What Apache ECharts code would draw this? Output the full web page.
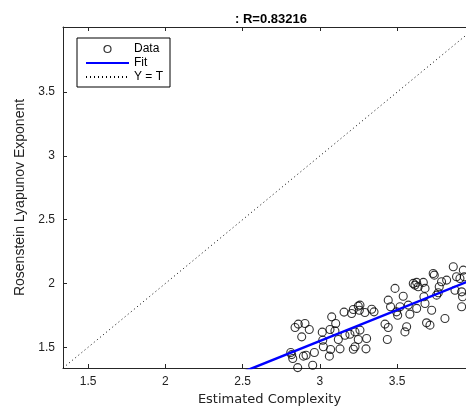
<!DOCTYPE html>
<html><head><meta charset="utf-8">
<script src="https://cdn.jsdelivr.net/npm/echarts@6/dist/echarts.min.js"></script>
<style>html,body{margin:0;padding:0;background:#fff;overflow:hidden}#c{width:466px;height:406px}</style>
</head><body><div id="c"></div>
<script>
const axisLimits = [1.337, 4.01];
const tickValues = [1.5, 2, 2.5, 3, 3.5];
const complexity = [2.839,2.860,2.903,2.931,2.882,2.811,2.817,2.824,2.856,2.893,2.910,2.953,2.964,3.015,3.018,3.022,3.061,3.069,3.065,3.076,3.102,3.097,3.119,3.130,3.162,3.156,3.205,3.216,3.248,3.259,3.255,3.291,3.335,3.350,3.194,3.227,3.259,3.248,3.216,3.227,3.298,3.302,3.421,3.442,3.436,3.442,3.457,3.486,3.496,3.503,3.518,3.539,3.550,3.561,3.572,3.582,3.604,3.615,3.626,3.636,3.669,3.680,3.673,3.626,3.680,3.690,3.712,3.723,3.733,3.740,3.755,3.766,3.772,3.787,3.809,3.820,3.863,3.874,3.884,3.906,3.917,3.923,3.917,3.928,3.934];
const lyapunov = [1.655,1.681,1.686,1.639,1.581,1.458,1.442,1.411,1.340,1.430,1.437,1.359,1.458,1.618,1.555,1.503,1.430,1.482,1.639,1.738,1.686,1.628,1.560,1.487,1.594,1.775,1.764,1.796,1.822,1.830,1.790,1.772,1.798,1.777,1.602,1.620,1.634,1.560,1.484,1.503,1.487,1.568,1.681,1.655,1.560,1.869,1.817,1.961,1.777,1.751,1.817,1.900,1.620,1.660,1.830,1.759,2.000,1.987,2.008,1.974,2.008,1.961,1.895,1.804,1.843,1.691,1.673,1.790,2.078,2.065,1.908,1.927,1.974,2.013,1.725,2.026,2.131,1.947,2.052,2.039,1.934,1.895,1.817,2.104,2.052];
const fitSlope = 0.487;
const fitIntercept = 0.088;
const rText = ': R=0.83216';
const legendNames = ['Data', 'Fit', 'Y = T'];

const font = 'Liberation Sans, Arial, Helvetica, sans-serif';
const axisColor = '#262626';
const chart = echarts.init(document.getElementById('c'));
const scatterData = complexity.map((x, i) => [x, lyapunov[i]]);
const fitData = axisLimits.map(x => [x, fitSlope * x + fitIntercept]);
const identData = axisLimits.map(x => [x, x]);

const baseAxis = {
  type: 'value', min: axisLimits[0], max: axisLimits[1],
  splitLine: { show: false },
  axisLine: { show: true, onZero: false, lineStyle: { color: axisColor, width: 1 } },
  axisTick: { show: true, inside: true, length: 4, customValues: tickValues, lineStyle: { color: axisColor } },
  axisLabel: { show: true, customValues: tickValues, color: '#222', fontSize: 12, fontFamily: font },
  nameTextStyle: { color: '#222', fontSize: 14, fontFamily: font }
};

chart.setOption({
  animation: false,
  backgroundColor: '#fff',
  title: {
    text: rText, left: 266, top: 8, textAlign: 'center',
    textStyle: { fontSize: 13, fontWeight: 'bold', color: '#000', fontFamily: font }
  },
  grid: { left: 63, top: 27, right: -10, bottom: 38, containLabel: false, outerBoundsMode: 'none' },
  legend: {
    data: [
      { name: legendNames[0], itemStyle: { borderWidth: 1.2 } },
      { name: legendNames[1], itemStyle: { opacity: 0 } },
      { name: legendNames[2], itemStyle: { opacity: 0 } }
    ],
    orient: 'vertical', left: 77, top: 38,
    itemWidth: 43, itemHeight: 7, itemGap: 2,
    padding: [5, 7, 4, 8], borderColor: '#000', borderWidth: 1, backgroundColor: '#fff', borderRadius: 0,
    textStyle: { fontSize: 12, color: '#000', fontFamily: font },
    selectedMode: false
  },
  xAxis: [
    Object.assign({}, baseAxis, {
      position: 'bottom', name: 'Estimated Complexity', nameLocation: 'middle', nameGap: 23,
      nameTextStyle: { color: '#222', fontSize: 13, fontFamily: 'DejaVu Sans, sans-serif' },
      axisLabel: Object.assign({}, baseAxis.axisLabel, { margin: 8 })
    }),
    Object.assign({}, baseAxis, {
      position: 'top', axisLabel: { show: false }
    })
  ],
  yAxis: [
    Object.assign({}, baseAxis, {
      position: 'left', name: 'Rosenstein Lyapunov Exponent', nameLocation: 'middle', nameGap: 33,
      axisLabel: Object.assign({}, baseAxis.axisLabel, { margin: 8 })
    }),
    Object.assign({}, baseAxis, {
      position: 'right', axisLabel: { show: false }
    })
  ],
  series: [
    {
      name: 'Data', type: 'scatter', data: scatterData, symbol: 'circle', symbolSize: 8,
      itemStyle: { color: 'rgba(0,0,0,0)', borderColor: '#000', borderWidth: 1.1 },
      emphasis: { disabled: true }, z: 3
    },
    {
      name: 'Fit', type: 'line', data: fitData, symbol: 'none', clip: true,
      lineStyle: { color: '#0000ff', width: 2.5 }, itemStyle: { color: '#0000ff' }, z: 4
    },
    {
      name: 'Y = T', type: 'line', data: identData, symbol: 'none', clip: true,
      lineStyle: { color: '#000', width: 1, type: [1, 3] }, itemStyle: { color: '#000' }, z: 2
    }
  ]
});
</script></body></html>
